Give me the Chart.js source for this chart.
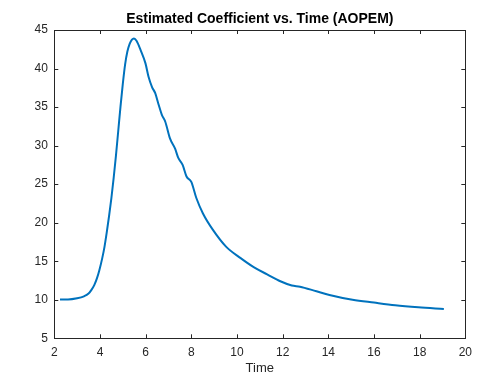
<!DOCTYPE html>
<html>
<head>
<meta charset="utf-8">
<script src="https://cdn.jsdelivr.net/npm/chart.js@4"></script>
<style>
  html, body { margin: 0; padding: 0; background: #fff; }
  #wrap { width: 479px; height: 372px; }
</style>
</head>
<body>
<div id="wrap"><canvas id="coefChart" width="479" height="372"></canvas></div>
<script>
// values
const timeVals = [2.25, 2.6, 3.0, 3.3, 3.5, 3.62, 3.75, 3.87, 3.97, 4.1, 4.2, 4.3, 4.4, 4.5,
  4.6, 4.7, 4.8, 4.9, 5.0, 5.1, 5.2, 5.3, 5.4, 5.49, 5.6, 5.78, 5.99, 6.13, 6.28, 6.42, 6.57,
  6.71, 6.86, 7.07, 7.29, 7.43, 7.62, 7.79, 8.0, 8.22, 8.51, 8.94, 9.52, 10.16, 10.75, 11.32,
  11.9, 12.4, 12.76, 13.48, 14.05, 15.06, 16.0, 16.93, 17.94, 19.06];
const coefVals = [10.05, 10.05, 10.2, 10.45, 10.8, 11.25, 11.9, 12.8, 13.8, 15.4, 16.9, 18.8,
  20.9, 23.2, 25.8, 28.7, 31.9, 35.1, 38.0, 40.5, 42.2, 43.2, 43.75, 43.9, 43.6, 42.4, 40.7,
  38.9, 37.6, 36.8, 35.3, 34.0, 33.1, 30.9, 29.6, 28.4, 27.5, 26.0, 25.3, 23.2, 21.2, 19.1,
  16.9, 15.4, 14.2, 13.3, 12.4, 11.85, 11.7, 11.1, 10.63, 10.0, 9.63, 9.29, 9.03, 8.81];
const xRange = [2, 20];
const xStep = 2;
const yRange = [5, 45];
const yStep = 5;

const axisColor = "#262626";
const fontFam = "'Liberation Sans', Arial, sans-serif";

// matlab style box with inward ticks on all four sides
const boxTicks = {
  id: "boxTicks",
  afterDatasetsDraw(chart) {
    const { ctx, chartArea: a, scales } = chart;
    const len = 4;
    ctx.save();
    ctx.strokeStyle = axisColor;
    ctx.lineWidth = 1;
    ctx.beginPath();
    scales.x.ticks.forEach(t => {
      const px = Math.round(scales.x.getPixelForValue(t.value)) + 0.5;
      ctx.moveTo(px, a.bottom); ctx.lineTo(px, a.bottom - len);
      ctx.moveTo(px, a.top); ctx.lineTo(px, a.top + len);
    });
    scales.y.ticks.forEach(t => {
      const py = Math.round(scales.y.getPixelForValue(t.value)) + 0.5;
      ctx.moveTo(a.left, py); ctx.lineTo(a.left + len, py);
      ctx.moveTo(a.right, py); ctx.lineTo(a.right - len, py);
    });
    ctx.stroke();
    ctx.strokeRect(Math.round(a.left) + 0.5, Math.round(a.top) + 0.5,
      Math.round(a.right - a.left), Math.round(a.bottom - a.top));
    ctx.restore();
  }
};

new Chart(document.getElementById("coefChart"), {
  type: "line",
  data: {
    datasets: [{
      data: timeVals.map((t, i) => ({ x: t, y: coefVals[i] })),
      borderColor: "#0072BD",
      borderWidth: 2,
      pointRadius: 0,
      cubicInterpolationMode: "monotone",
      fill: false
    }]
  },
  options: {
    responsive: false,
    animation: false,
    layout: { padding: { left: 0, right: 8, top: 0, bottom: 0 } },
    plugins: {
      legend: { display: false },
      tooltip: { enabled: false },
      title: {
        display: true,
        text: "Estimated Coefficient vs. Time (AOPEM)",
        fullSize: false,
        color: "#000",
        font: { family: fontFam, size: 14, weight: "bold" },
        padding: { top: 11.1, bottom: 2.1 }
      }
    },
    scales: {
      x: {
        type: "linear",
        min: xRange[0],
        max: xRange[1],
        grid: { display: false, drawTicks: false },
        border: { display: false },
        ticks: { stepSize: xStep, color: axisColor, padding: 7, maxRotation: 0,
          font: { family: fontFam, size: 12 } },
        title: { display: true, text: "Time", color: axisColor,
          font: { family: fontFam, size: 13 }, padding: { top: 0, bottom: -3.8 } },
        afterFit(s) { s.height = 33.7; }
      },
      y: {
        min: yRange[0],
        max: yRange[1],
        grid: { display: false, drawTicks: false },
        border: { display: false },
        ticks: { stepSize: yStep, color: axisColor, padding: 6.5,
          font: { family: fontFam, size: 12 } },
        afterFit(s) { s.width = 54.3; }
      }
    }
  },
  plugins: [boxTicks]
});
</script>
</body>
</html>
